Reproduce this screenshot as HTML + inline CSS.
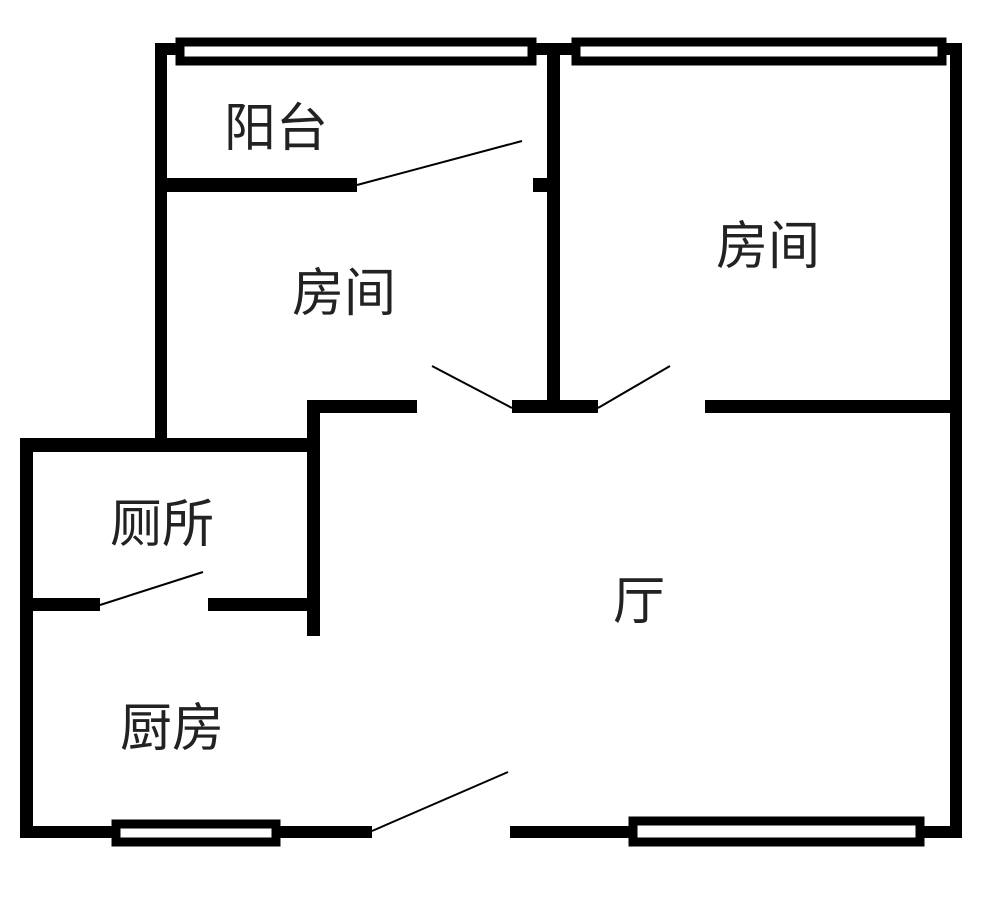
<!DOCTYPE html>
<html><head><meta charset="utf-8"><style>
html,body{margin:0;padding:0;background:#fff;}
svg{display:block}
text{font-family:"Liberation Sans","Noto Sans CJK SC",sans-serif;fill:#222;font-size:52px}
</style></head><body>
<svg width="1000" height="917" viewBox="0 0 1000 917">
<g fill="#000">
<rect x="155" y="43" width="807" height="12"/>
<rect x="155" y="43" width="12" height="400"/>
<rect x="547" y="43" width="13" height="370"/>
<rect x="950" y="43" width="12" height="795"/>
<rect x="155" y="178" width="202" height="14"/>
<rect x="533" y="178" width="14" height="14"/>
<rect x="307" y="400" width="110" height="13"/>
<rect x="512" y="400" width="86" height="13"/>
<rect x="705" y="400" width="257" height="13"/>
<rect x="307" y="400" width="13" height="236"/>
<rect x="20" y="438" width="300" height="14"/>
<rect x="20" y="438" width="13" height="400"/>
<rect x="20" y="598" width="80" height="13"/>
<rect x="208" y="598" width="112" height="13"/>
<rect x="20" y="826" width="352" height="12"/>
<rect x="510" y="826" width="452" height="12"/>
</g>
<g fill="#fff" stroke="#000" stroke-width="9">
<rect x="180" y="42" width="352" height="19"/>
<rect x="576" y="42" width="366" height="19"/>
<rect x="116" y="824" width="160" height="18"/>
<rect x="633" y="821" width="287" height="21"/>
</g>
<g stroke="#000" stroke-width="2" fill="none">
<line x1="357" y1="185" x2="522" y2="141"/>
<line x1="432" y1="366" x2="512" y2="408"/>
<line x1="598" y1="408" x2="670" y2="366"/>
<line x1="100" y1="605" x2="203" y2="572"/>
<line x1="372" y1="831" x2="508" y2="772"/>
</g>
<text x="224" y="146" font-size="48">阳台</text>
<text x="292" y="311">房间</text>
<text x="716" y="264">房间</text>
<text x="110" y="542">厕所</text>
<text x="613" y="619">厅</text>
<text x="120" y="746">厨房</text>
</svg>
</body></html>
